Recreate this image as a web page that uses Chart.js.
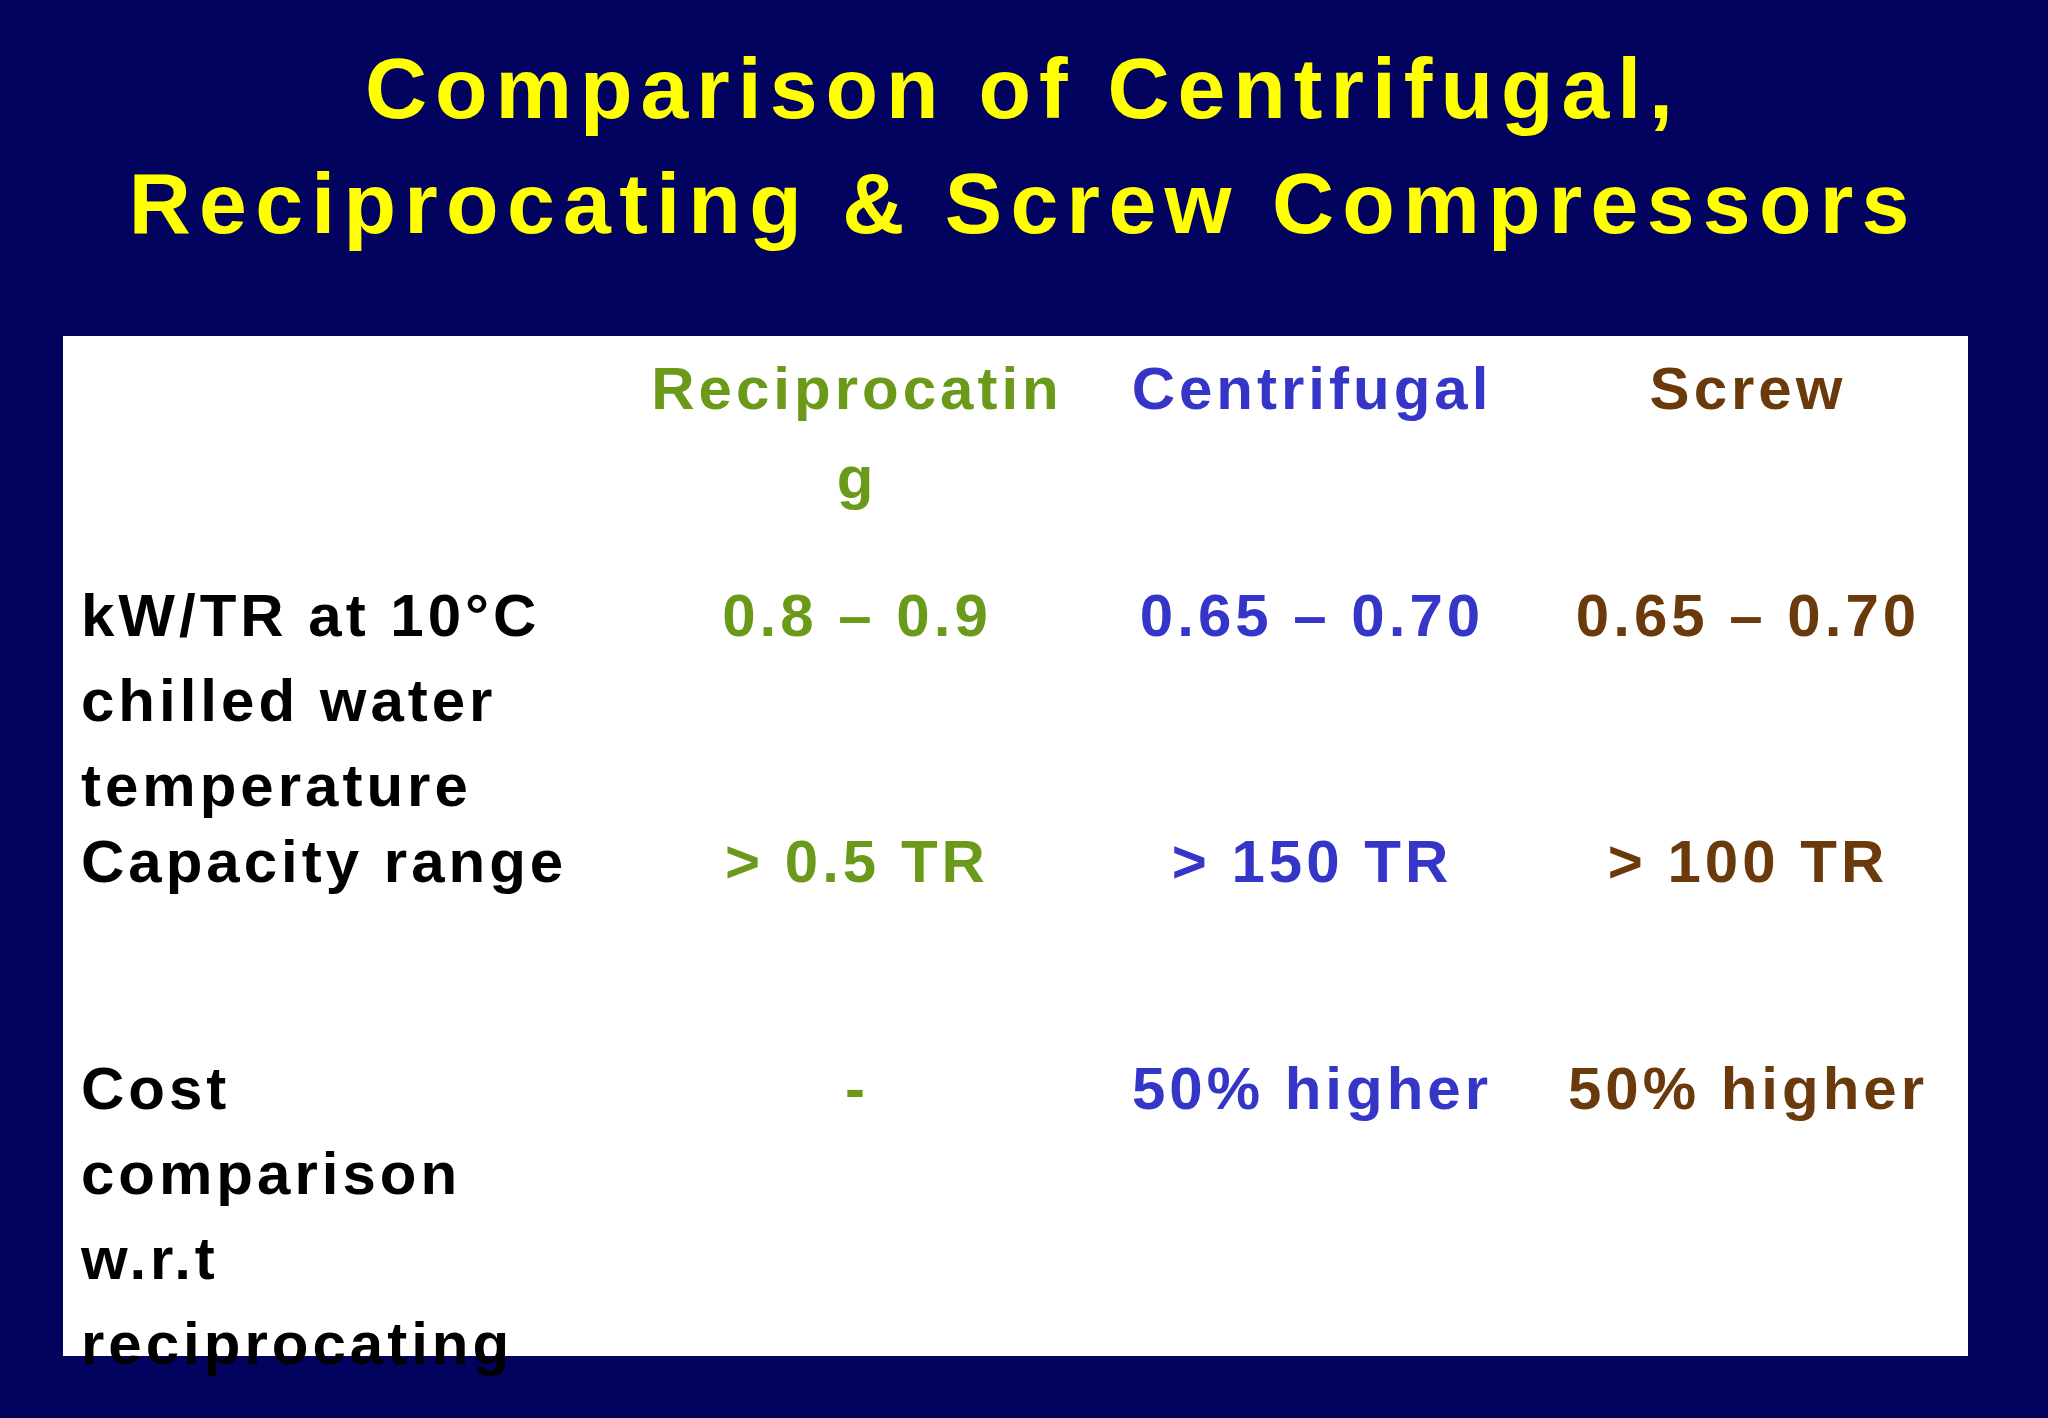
<!DOCTYPE html>
<html>
<head>
<meta charset="utf-8">
<script src="https://cdn.jsdelivr.net/npm/chart.js@4/dist/chart.umd.min.js"></script>
<style>
  html, body { margin: 0; padding: 0; background: #02025f; }
  canvas { display: block; }
</style>
</head>
<body>
<canvas id="slide" width="2048" height="1418"></canvas>
<script>
// Inhalt der Tabelle
const titleLines = ['Comparison of Centrifugal,', 'Reciprocating & Screw Compressors'];
const columns = [['Reciprocatin', 'g'], ['Centrifugal'], ['Screw']];
const rowLabels = [
    ['kW/TR at 10°C', 'chilled water', 'temperature'],
    ['Capacity range'],
    ['Cost', 'comparison', 'w.r.t', 'reciprocating']
];
const reciprocating = ['0.8 – 0.9', '> 0.5 TR', '-'];
const centrifugal = ['0.65 – 0.70', '> 150 TR', '50% higher'];
const screw = ['0.65 – 0.70', '> 100 TR', '50% higher'];

const colColors = ['#6b9a1a', '#3535c8', '#6a3a0c'];

// Layout (Pixel im 2048x1418 Raster)
const colX = [855, 1310, 1746];
const labelX = 81;
const headerY = 392;
const rowY = [619, 865, 1092];
const lineGap = 85;

const tablePlugin = {
    id: 'tablePlugin',
    beforeDraw(chart) {
        const c = chart.ctx;
        const sx = chart.scales.x, sy = chart.scales.y;
        const X = v => sx.getPixelForValue(v);
        const Y = v => sy.getPixelForValue(v);
        c.save();
        c.fillStyle = '#02025f';
        c.fillRect(0, 0, chart.width, chart.height);
        c.fillStyle = '#ffffff';
        c.fillRect(X(63), Y(336), X(1968) - X(63), Y(1356) - Y(336));

        // Titel
        c.textBaseline = 'middle';
        c.textAlign = 'center';
        c.fillStyle = '#ffff00';
        c.font = 'bold 86px "Liberation Sans", Arial, sans-serif';
        const titleW = [1316, 1789];
        const titleY = [94, 209];
        titleLines.forEach((t, i) => {
            c.letterSpacing = '0px';
            const w = c.measureText(t).width;
            const ls = (titleW[i] - w) / t.length;
            c.letterSpacing = ls + 'px';
            c.fillText(t, X(1019) + ls / 2, Y(titleY[i]));
        });

        c.font = 'bold 60px "Liberation Sans", Arial, sans-serif';
        c.letterSpacing = '4px';
        // Kopfzeile
        columns.forEach((lines, i) => {
            c.fillStyle = colColors[i];
            lines.forEach((t, j) => c.fillText(t, X(colX[i]) + 2, Y(headerY + j * 89)));
        });
        // Zeilen
        const values = [reciprocating, centrifugal, screw];
        rowLabels.forEach((lines, r) => {
            c.textAlign = 'left';
            c.fillStyle = '#000000';
            lines.forEach((t, j) => c.fillText(t, X(labelX), Y(rowY[r] + j * lineGap)));
            c.textAlign = 'center';
            values.forEach((col, i) => {
                c.fillStyle = colColors[i];
                c.fillText(col[r], X(colX[i]) + 2, Y(rowY[r]));
            });
        });
        c.restore();
    }
};

new Chart(document.getElementById('slide'), {
    type: 'scatter',
    data: { datasets: [{ data: [], pointRadius: 0 }] },
    options: {
        responsive: false,
        animation: false,
        devicePixelRatio: 1,
        layout: { padding: 0 },
        scales: {
            x: { type: 'linear', min: 0, max: 2048, display: false },
            y: { type: 'linear', min: 0, max: 1418, reverse: true, display: false }
        },
        plugins: { legend: { display: false }, tooltip: { enabled: false } }
    },
    plugins: [tablePlugin]
});
</script>
</body>
</html>
